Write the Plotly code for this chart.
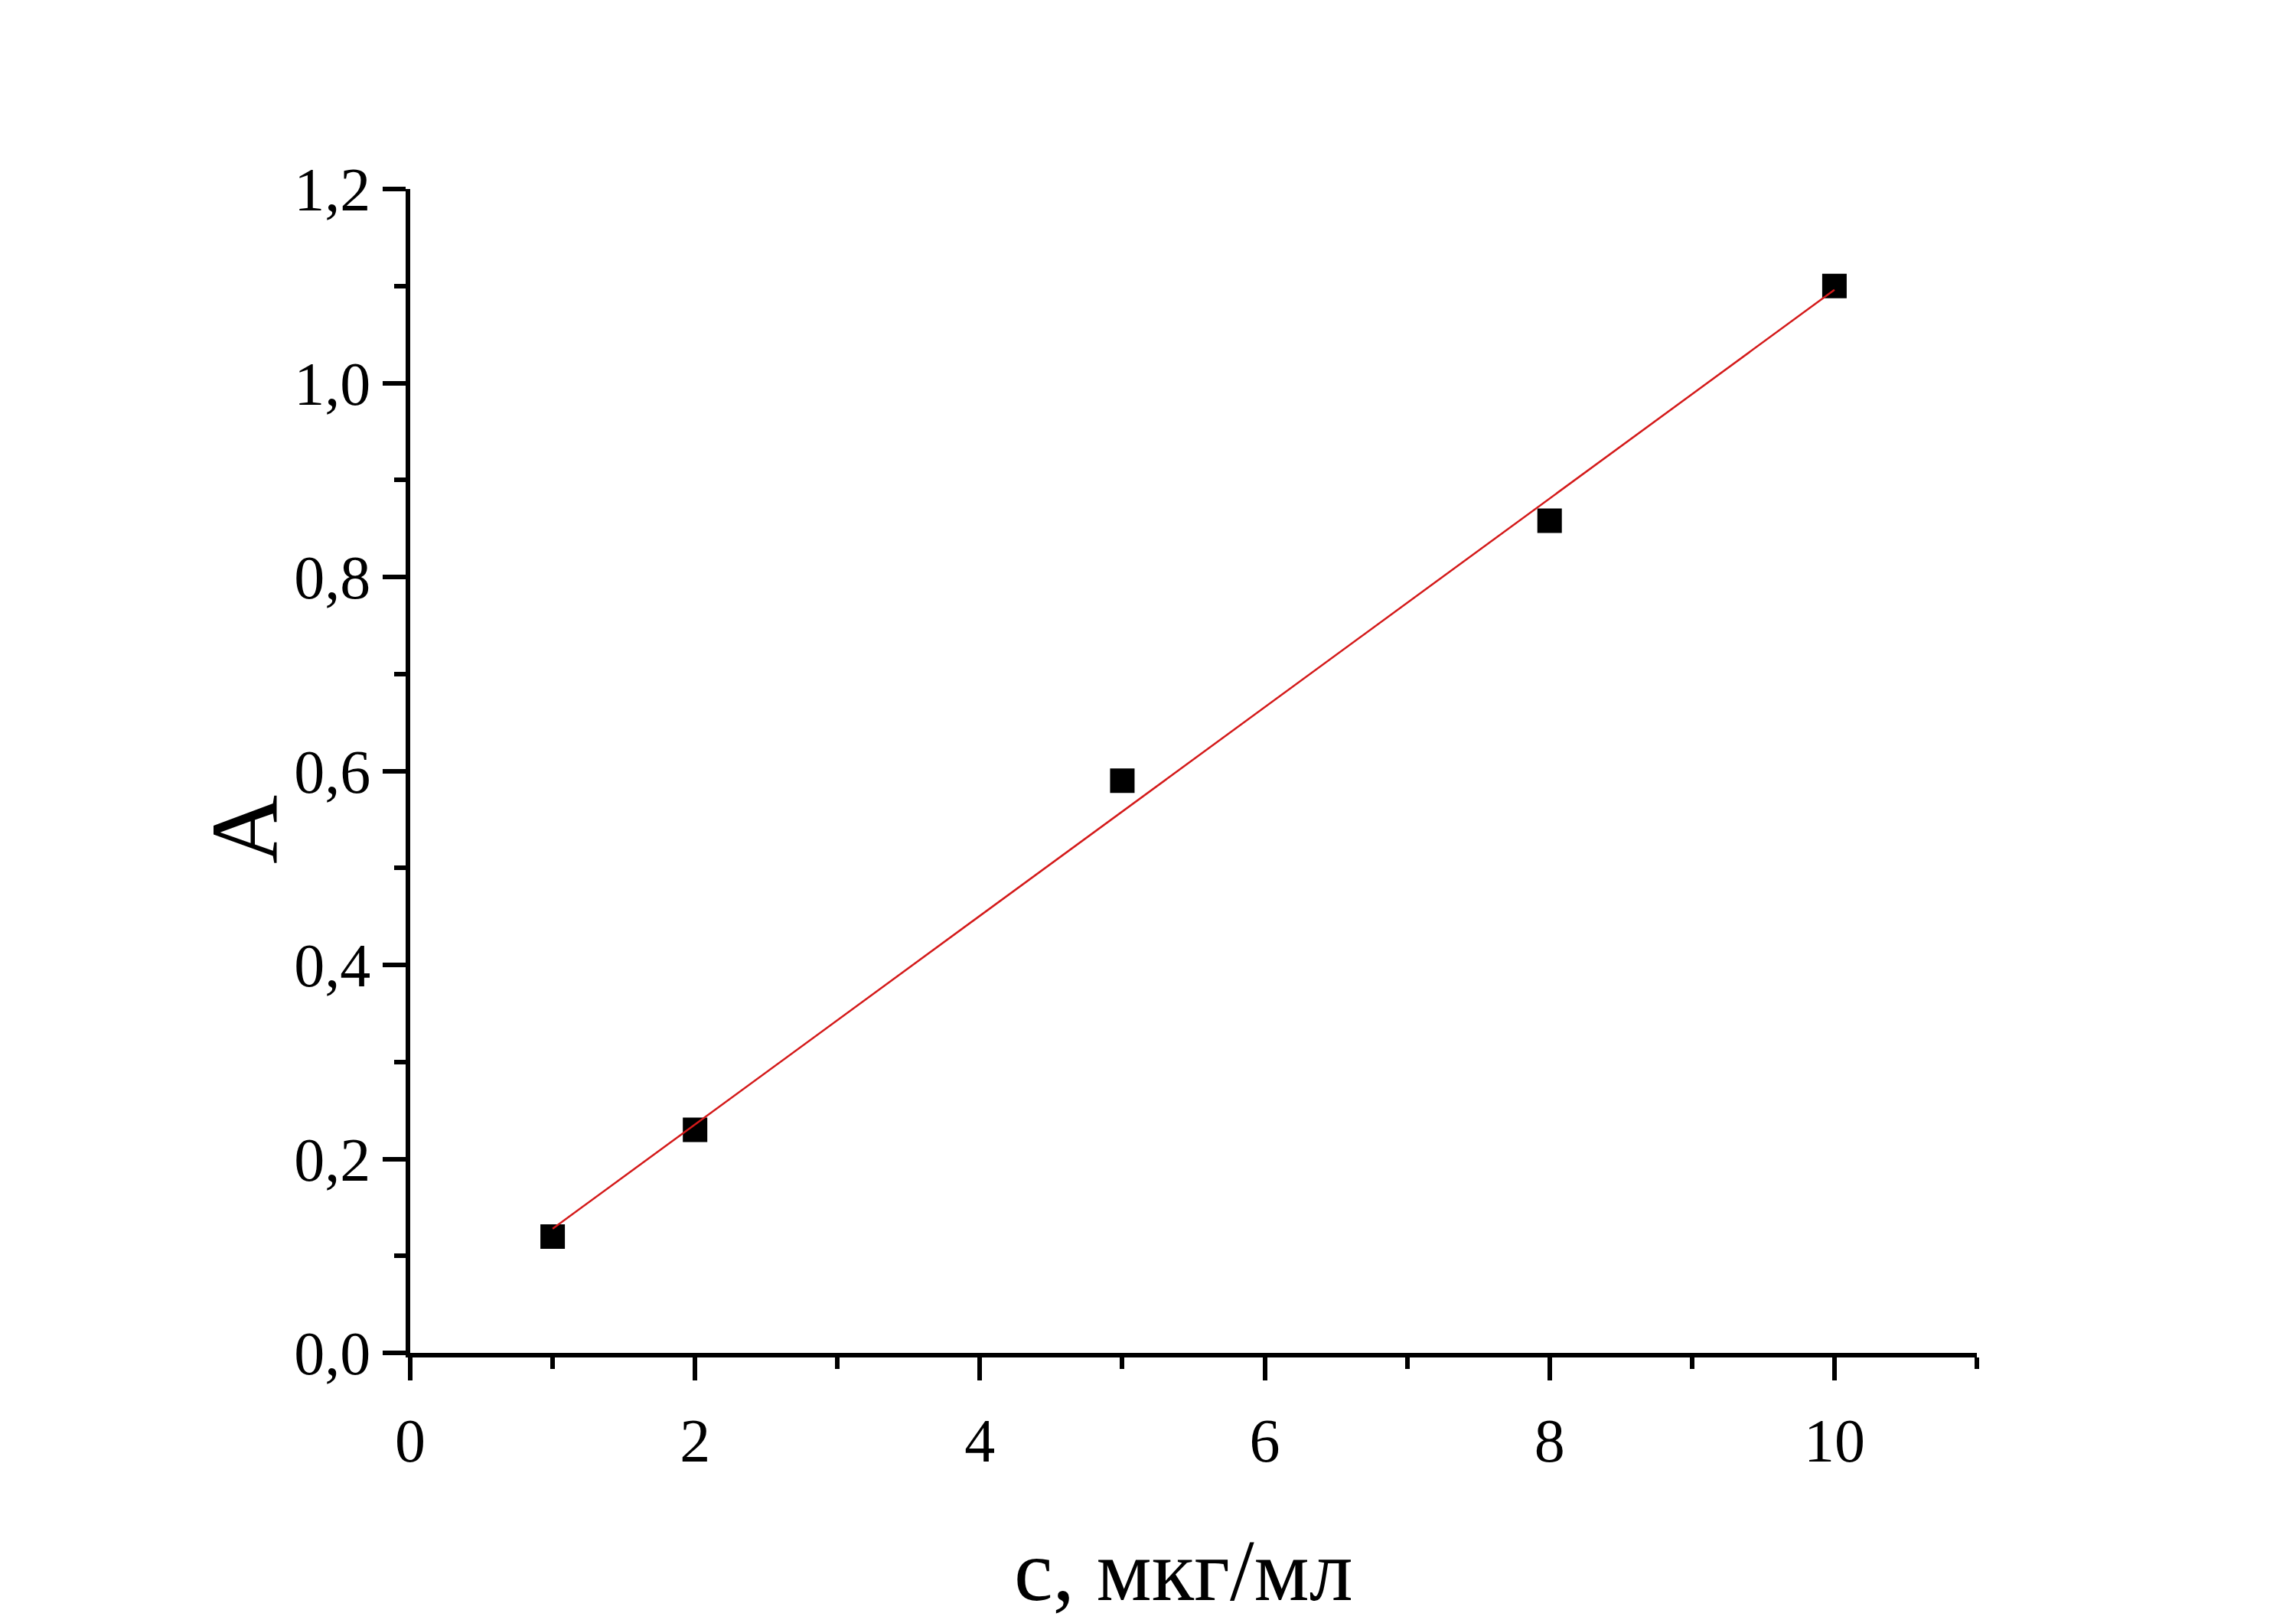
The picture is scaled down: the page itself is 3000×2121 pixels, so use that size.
import plotly.graph_objects as go

# Data
conc = [1, 2, 5, 8, 10]
absorb = [0.12, 0.23, 0.59, 0.858, 1.10]
fit_x = [1, 10]
fit_y = [0.128, 1.096]

x_major = [0, 2, 4, 6, 8, 10]
x_minor = [1, 3, 5, 7, 9, 11]
y_major = [0.0, 0.2, 0.4, 0.6, 0.8, 1.0, 1.2]
y_major_text = ["0,0", "0,2", "0,4", "0,6", "0,8", "1,0", "1,2"]
y_minor = [0.1, 0.3, 0.5, 0.7, 0.9, 1.1]

x_title = "c, мкг/мл"
y_title = "A"

FONT = "Liberation Serif, Times New Roman, serif"

fig = go.Figure()
fig.add_trace(go.Scatter(
    x=conc, y=absorb, mode="markers",
    marker=dict(symbol="square", size=32, color="black", line=dict(width=0)),
    showlegend=False, cliponaxis=False,
))
fig.add_trace(go.Scatter(
    x=fit_x, y=fit_y, mode="lines",
    line=dict(color="#d41a1a", width=2.5),
    showlegend=False, cliponaxis=False,
))

axis_common = dict(
    showline=True, linecolor="black", linewidth=5.5,
    ticks="outside", ticklen=30, tickwidth=5.5, tickcolor="black",
    showgrid=False, zeroline=False,
    tickfont=dict(family=FONT, size=80, color="black"),
)

fig.update_xaxes(
    range=[0, 11], tickmode="array", tickvals=x_major,
    ticktext=[str(v) for v in x_major],
    minor=dict(tickmode="array", tickvals=x_minor, ticklen=15, tickwidth=5.5,
               tickcolor="black", ticks="outside", showgrid=False),
    ticklabelstandoff=10,
    **axis_common,
)
fig.update_yaxes(
    range=[0, 1.2], tickmode="array", tickvals=y_major, ticktext=y_major_text,
    minor=dict(tickmode="array", tickvals=y_minor, ticklen=15, tickwidth=5.5,
               tickcolor="black", ticks="outside", showgrid=False),
    ticklabelstandoff=0,
    **axis_common,
)

fig.add_annotation(
    text=x_title, xref="paper", yref="paper", x=(1546 - 536) / (2583 - 536),
    y=-(2052 - 1768) / (1768 - 247), xanchor="center", yanchor="middle",
    showarrow=False, font=dict(family=FONT, size=114, color="black"),
)
fig.add_annotation(
    text=y_title, xref="paper", yref="paper", x=-(536 - 320) / (2583 - 536),
    y=(1768 - 1084) / (1768 - 247), xanchor="center", yanchor="middle",
    textangle=-90, showarrow=False,
    font=dict(family=FONT, size=125, color="black"),
)

fig.update_layout(
    width=3000, height=2121,
    margin=dict(l=536, r=417, t=247, b=353),
    paper_bgcolor="white", plot_bgcolor="white",
    separators=", ",
)

fig.write_html("out.html")
